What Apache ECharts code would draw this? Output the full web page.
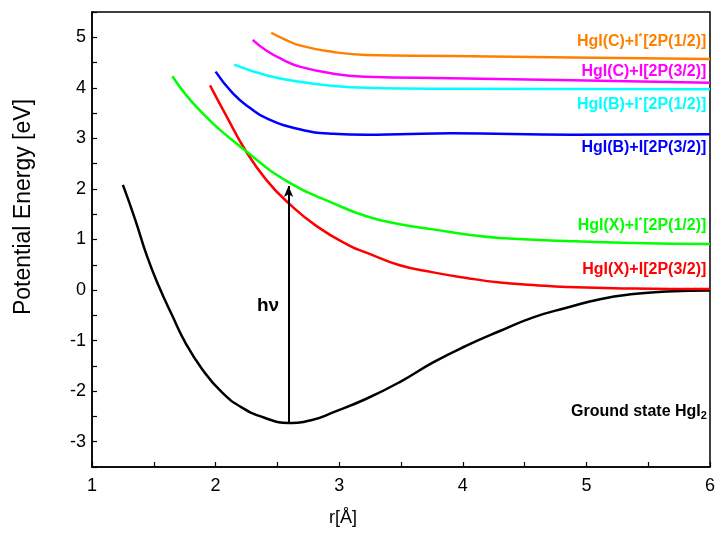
<!DOCTYPE html>
<html>
<head>
<meta charset="utf-8">
<script src="https://cdn.jsdelivr.net/npm/echarts@6/dist/echarts.min.js"></script>
<style>html,body{margin:0;padding:0;background:#fff}#c{width:718px;height:538px}</style>
</head>
<body>
<div id="c"></div>
<script>
// Ground state HgI2
const groundR = [1.25,1.35,1.445,1.54,1.65,1.755,1.89,2.05,2.21,2.40,2.59,2.78,2.95,3.22,3.49,3.76,4.03,4.30,4.57,4.84,5.11,5.38,5.65,6.0];
const groundE = [2.08,1.39,0.67,0.08,-0.51,-1.04,-1.56,-2.02,-2.32,-2.53,-2.63,-2.57,-2.42,-2.15,-1.82,-1.43,-1.10,-0.81,-0.54,-0.35,-0.18,-0.08,-0.03,-0.01];
// HgI(X)+I[2P(3/2)]
const redR = [1.955,2.09,2.24,2.41,2.59,2.82,3.09,3.22,3.49,3.76,4.03,4.30,4.57,4.84,5.38,6.0];
const redE = [4.05,3.43,2.77,2.18,1.72,1.26,0.87,0.74,0.49,0.35,0.24,0.15,0.10,0.06,0.03,0.02];
// HgI(X)+I*[2P(1/2)]
const greenR = [1.65,1.87,2.24,2.60,2.95,3.22,3.49,3.76,4.03,4.30,4.84,5.38,6.0];
const greenE = [4.23,3.56,2.76,2.12,1.72,1.46,1.30,1.20,1.10,1.03,0.97,0.93,0.91];
// HgI(B)+I[2P(3/2)]
const blueR = [2.00,2.14,2.28,2.41,2.68,2.95,3.22,3.49,3.90,4.89,6.0];
const blueE = [4.32,3.89,3.60,3.40,3.18,3.09,3.07,3.08,3.10,3.07,3.08];
// HgI(B)+I*[2P(1/2)]
const cyanR = [2.15,2.41,2.68,2.95,3.22,3.90,6.0];
const cyanE = [4.46,4.25,4.12,4.04,4.00,3.98,3.97];
// HgI(C)+I[2P(3/2)]
const magentaR = [2.30,2.41,2.55,2.68,2.95,3.22,3.90,4.89,6.0];
const magentaE = [4.95,4.74,4.55,4.42,4.28,4.22,4.19,4.15,4.10];
// HgI(C)+I*[2P(1/2)]
const orangeR = [2.45,2.55,2.68,2.95,3.22,3.90,4.89,6.0];
const orangeE = [5.09,4.97,4.84,4.71,4.65,4.63,4.60,4.57];
// excitation arrow
const arrowR = 2.59;
const arrowFrom = -2.63;
const arrowTo = 2.06;
// annotations
const labelTexts = ['HgI(C)+I{s|*}[2P(1/2)]','HgI(C)+I[2P(3/2)]','HgI(B)+I{s|*}[2P(1/2)]','HgI(B)+I[2P(3/2)]','HgI(X)+I{s|*}[2P(1/2)]','HgI(X)+I[2P(3/2)]','Ground state HgI{b|2}'];
const labelR = [5.97,5.97,5.97,5.97,5.97,5.97,5.975];
const labelE = [4.91,4.32,3.66,2.81,1.28,0.41,-2.41];
const labelColors = ['#FF8000','#FF00FF','#00FFFF','#0000FF','#00FF00','#FF0000','#000000'];
const hvText = 'hν';
const hvR = 2.424;
const hvE = -0.32;
const xName = 'r[Å]';
const yName = 'Potential Energy [eV]';

const xTicks = {min:1, max:6, step:0.5};
const yTicks = {min:-3.5, max:5.5, step:0.5};

const FONT = '"Liberation Sans", Arial, sans-serif';
const zip = (a,b) => a.map((v,i)=>[v,b[i]]);
function curve(name, R, E, color){
  return {name, type:'line', data: zip(R,E), smooth:0.5, symbol:'none',
    lineStyle:{color, width:2.5}, itemStyle:{color}, z:3, silent:true};
}

const chart = echarts.init(document.getElementById('c'), null, {renderer:'canvas'});
const intOnly = v => (Math.abs(v - Math.round(v)) < 1e-9 ? String(Math.round(v)) : '');

chart.setOption({
  animation:false,
  backgroundColor:'#fff',
  grid:{left:92, right:8, top:12, bottom:71, show:true, borderColor:'#000', borderWidth:1.5, backgroundColor:'transparent'},
  xAxis:{type:'value', min:xTicks.min, max:xTicks.max, interval:xTicks.step,
    axisLine:{show:true, onZero:false, lineStyle:{color:'#000', width:1.5}},
    axisTick:{show:true, inside:true, length:5, lineStyle:{color:'#000', width:1.2}},
    axisLabel:{formatter:intOnly, fontFamily:FONT, fontSize:18, color:'#000', margin:10},
    splitLine:{show:false}},
  yAxis:{type:'value', min:yTicks.min, max:yTicks.max, interval:yTicks.step,
    axisLine:{show:true, onZero:false, lineStyle:{color:'#000', width:1.5}},
    axisTick:{show:true, inside:true, length:5, lineStyle:{color:'#000', width:1.2}},
    axisLabel:{formatter:intOnly, fontFamily:FONT, fontSize:18, color:'#000', margin:6},
    splitLine:{show:false}},
  graphic:[
    {type:'text', left:329, top:509, silent:true,
     style:{text:xName, fontFamily:FONT, fontSize:18, fill:'#000'}},
    {type:'text', x:24, y:207, rotation:Math.PI/2, silent:true,
     style:{text:yName, fontFamily:FONT, fontSize:23, fill:'#000', align:'center', verticalAlign:'middle'}}
  ],
  series:[
    curve('ground', groundR, groundE, '#000000'),
    curve('X 3/2', redR, redE, '#FF0000'),
    curve('X 1/2', greenR, greenE, '#00FF00'),
    curve('B 3/2', blueR, blueE, '#0000FF'),
    curve('B 1/2', cyanR, cyanE, '#00FFFF'),
    curve('C 3/2', magentaR, magentaE, '#FF00FF'),
    curve('C 1/2', orangeR, orangeE, '#FF8000'),
    {type:'line', data:[], symbol:'none', silent:true,
     markLine:{silent:true, symbol:['none','arrow'], symbolSize:[7,11], label:{show:false},
       lineStyle:{color:'#000', width:2, type:'solid'},
       data:[[{coord:[arrowR, arrowFrom]},{coord:[arrowR, arrowTo]}]]}},
    {type:'scatter', symbolSize:0, silent:true, z:5, itemStyle:{opacity:1},
     data: labelTexts.map((t,i)=>({value:[labelR[i], labelE[i]],
       label:{show:true, position:'left', distance:0, formatter:t,
         fontFamily:FONT, fontSize:16, fontWeight:'bold', color:labelColors[i],
         rich:{s:{fontFamily:FONT, fontSize:9, fontWeight:'bold', color:labelColors[i], padding:[0,1,10,0]},
               b:{fontFamily:FONT, fontSize:11, fontWeight:'bold', color:labelColors[i], padding:[8,0,0,0]}}}})).concat([
       {value:[hvR, hvE], label:{show:true, position:'inside', formatter:hvText,
         fontFamily:FONT, fontSize:19, fontWeight:'bold', color:'#000'}}])}
  ]
});
</script>
</body>
</html>
